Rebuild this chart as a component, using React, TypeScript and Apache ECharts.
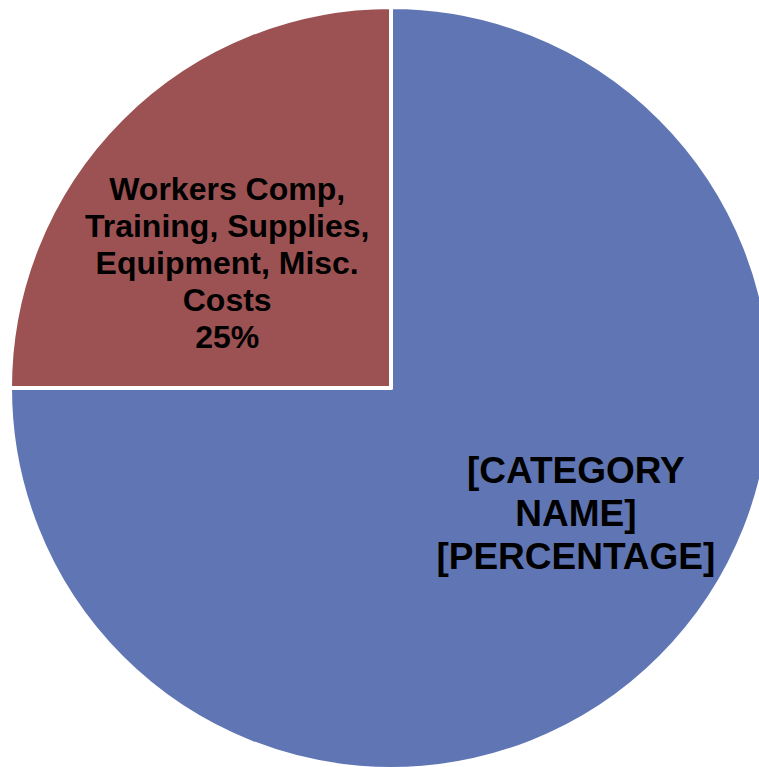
import React, { useEffect, useRef } from "react";
import * as echarts from "echarts";

const categories = ["[CATEGORY NAME]", "Workers Comp, Training, Supplies, Equipment, Misc. Costs"];
const values = [75, 25];
const labelTexts = [
  "[CATEGORY\nNAME]\n[PERCENTAGE]",
  "Workers Comp,\nTraining, Supplies,\nEquipment, Misc.\nCosts\n25%",
];
const colors = ["#6076B4", "#9C5252"];
const labelFontSizes = [37, 32];
const labelLineHeights = [43, 37];
const labelShift = [
  { dx: 48, dy: -11 },
  { dx: -27, dy: 12 },
];

export default function App() {
  const ref = useRef<HTMLDivElement>(null);
  useEffect(() => {
    if (!ref.current) return;
    const chart = echarts.init(ref.current, undefined, { renderer: "svg" });
    chart.setOption({
      animation: false,
      backgroundColor: "#ffffff",
      series: [
        {
          type: "pie",
          center: [391, 388],
          radius: 381,
          startAngle: 90,
          clockwise: true,
          avoidLabelOverlap: false,
          itemStyle: { borderColor: "#ffffff", borderWidth: 4 },
          label: {
            show: true,
            position: "inside",
            color: "#000000",
            fontWeight: "bold",
            fontFamily: "'Liberation Sans', Arial, sans-serif",
            align: "center",
          },
          labelLine: { show: false },
          labelLayout: (params: any) => labelShift[params.dataIndex],
          data: categories.map((name, i) => ({
            name,
            value: values[i],
            itemStyle: { color: colors[i] },
            label: {
              formatter: labelTexts[i],
              fontSize: labelFontSizes[i],
              lineHeight: labelLineHeights[i],
            },
          })),
        },
      ],
    });
    return () => chart.dispose();
  }, []);
  return (
    <div
      ref={ref}
      style={{ position: "fixed", left: 0, top: 0, width: 759, height: 767 }}
    />
  );
}
